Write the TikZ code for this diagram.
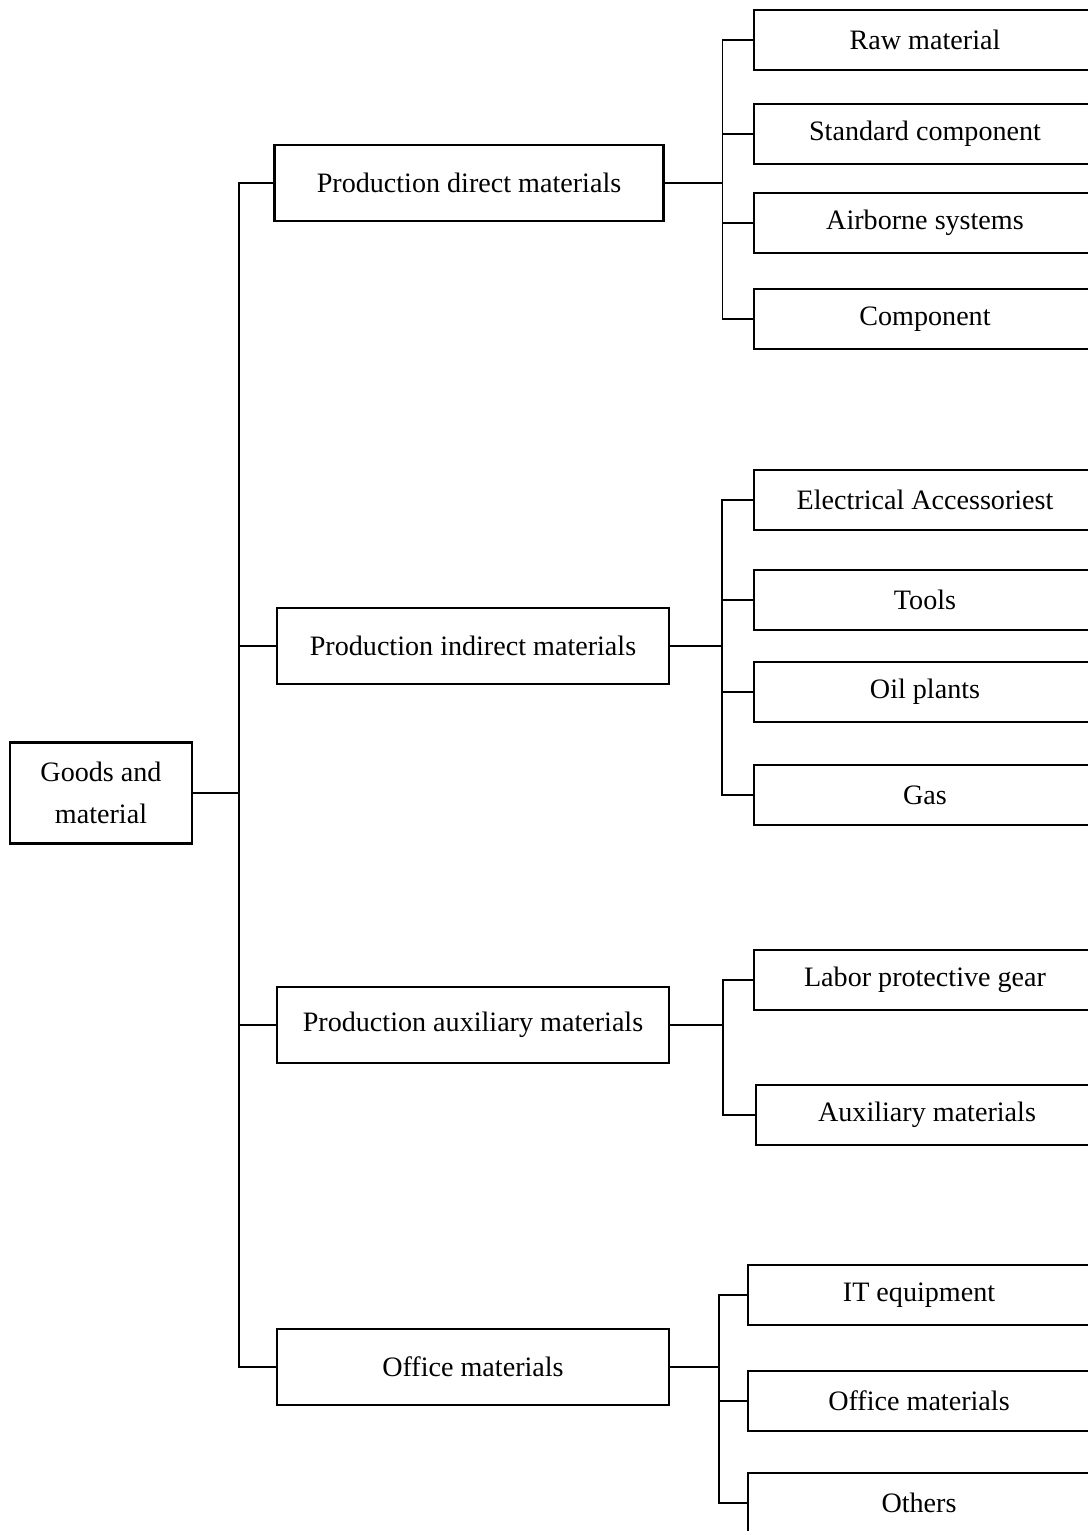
\documentclass[tikz,border=0pt]{standalone}
\usepackage{fontspec}
\setmainfont{Liberation Serif}
\usetikzlibrary{positioning}

\begin{document}
\begin{tikzpicture}[
         x=0.02cm, y=-0.02cm,
         box/.style={draw, rectangle, line width=1.2pt, align=center, font=\fontsize{16}{23.5}\selectfont},
         root/.style={box, minimum width=3.64cm, minimum height=2.02cm},
         group/.style={box, minimum width=7.84cm, minimum height=1.52cm},
         item/.style={box, minimum width=6.84cm, minimum height=1.2cm},
         link/.style={line width=0.65pt}
      ]
         % Page frame (leaf boxes run off the right edge)
         \useasboundingbox (0,0) rectangle (1088,1531);
         \clip (0,0) rectangle (1088,1531);

         % Root
         \node[root] (root) at (101,793) {Goods and\\material};

         % Second level
         \node[group, minimum width=7.78cm] (direct) at (469,183) {Production direct materials};
         \node[group] (indirect) at (473,646) {Production indirect materials};
         \node[group] (auxiliary) at (473,1025) {Production auxiliary materials};
         \node[group] (office) at (473,1367) {Office materials};

         % Leaves
         \node[item] (raw) at (925,40) {Raw material};
         \node[item] (standard) at (925,134) {Standard component};
         \node[item] (airborne) at (925,223) {Airborne systems};
         \node[item] (component) at (925,319) {Component};

         \node[item] (electrical) at (925,500) {Electrical Accessoriest};
         \node[item] (tools) at (925,600) {Tools};
         \node[item] (oil) at (925,692) {Oil plants};
         \node[item] (gas) at (925,795) {Gas};

         \node[item] (labor) at (925,980) {Labor protective gear};
         \node[item] (auxmat) at (927,1115) {Auxiliary materials};

         \node[item] (it) at (919,1295) {IT equipment};
         \node[item] (officemat) at (919,1401) {Office materials};
         \node[item] (others) at (919,1503) {Others};

         % Connectors
         \foreach \g in {direct,indirect,auxiliary,office}
            \draw[link] (root.east) -- ++(46,0) |- (\g.west);
         \foreach \l in {raw,standard,airborne,component}
            \draw[link] (direct.east) -- ++(58,0) |- (\l.west);
         \foreach \l in {electrical,tools,oil,gas}
            \draw[link] (indirect.east) -- ++(52,0) |- (\l.west);
         \foreach \l in {labor,auxmat}
            \draw[link] (auxiliary.east) -- ++(53,0) |- (\l.west);
         \foreach \l in {it,officemat,others}
            \draw[link] (office.east) -- ++(49,0) |- (\l.west);
      \end{tikzpicture}
\end{document}
